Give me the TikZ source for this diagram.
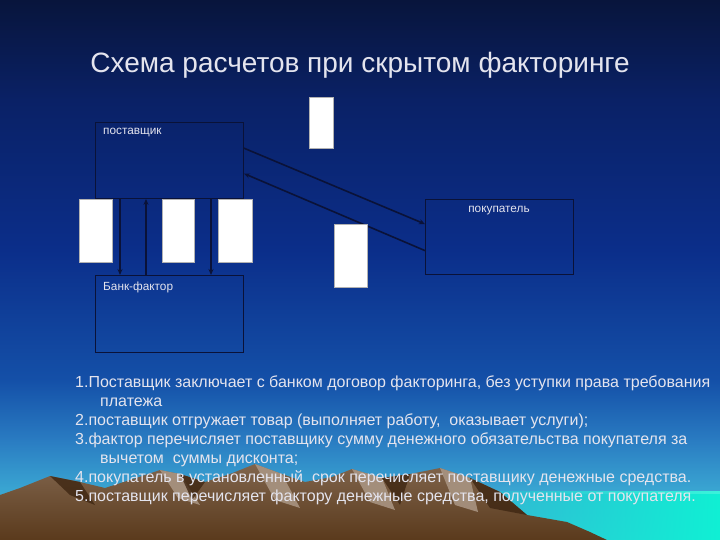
\documentclass[tikz,border=0pt]{standalone}
\usepackage{fontspec}
\setmainfont{Liberation Sans}
\usetikzlibrary{arrows.meta,calc,fadings}
\definecolor{bg0}{HTML}{08153C}
\definecolor{bg1}{HTML}{0A2166}
\definecolor{bg2}{HTML}{0B2E8A}
\definecolor{bg3}{HTML}{1450A8}
\definecolor{bg4}{HTML}{2A7CC2}
\definecolor{bg5}{HTML}{3AA6D2}
\definecolor{bg6}{HTML}{3AB4D6}
\definecolor{seaL}{HTML}{2A98C4}
\definecolor{seaR}{HTML}{10F0D4}
\definecolor{mtop}{HTML}{80644C}
\definecolor{mbot}{HTML}{5A3A1C}
\definecolor{mlight}{HTML}{AC9886}
\definecolor{mdark}{HTML}{3E2612}
\definecolor{edgec}{HTML}{0A1238}
\definecolor{txt}{HTML}{E4E4EE}
\tikzfading[name=fadeleft, left color=transparent!100, right color=transparent!0]
\tikzset{
  box/.style={draw=edgec, line width=0.9pt, inner sep=0pt, anchor=north west},
  wbox/.style={fill=white, draw=gray!60, line width=0.4pt, inner sep=0pt, anchor=north west},
  lbl/.style={text=txt, font=\fontsize{11.8}{13}\selectfont, inner sep=0pt},
  item/.style={text=txt, font=\fontsize{16}{19}\selectfont, inner sep=0pt, anchor=base west},
  conn/.style={draw=edgec, line width=1.6pt, -{Stealth[length=6pt,width=5pt]}}
}
\begin{document}
\begin{tikzpicture}[x=1pt,y=-1pt]
\useasboundingbox (0,0) rectangle (720,540);
% background
\shade[top color=bg0, bottom color=bg1] (0,0) rectangle (720,101);
\shade[top color=bg1, bottom color=bg2] (0,100) rectangle (720,251);
\shade[top color=bg2, bottom color=bg3] (0,250) rectangle (720,381);
\shade[top color=bg3, bottom color=bg4] (0,380) rectangle (720,441);
\shade[top color=bg4, bottom color=bg5] (0,440) rectangle (720,491);
\shade[top color=bg5, bottom color=bg6] (0,490) rectangle (720,540);
% sea band
\fill[seaR, path fading=fadeleft] (430,491) rectangle (720,540);
\fill[seaR!70!white, path fading=fadeleft, opacity=0.6] (520,491) rectangle (720,494);
% mountains
\shade[top color=mtop, bottom color=mbot]
  (0,495) -- (20,488) -- (50,476) -- (80,482) -- (105,488) -- (130,480) -- (160,470)
  -- (180,474) -- (205,482) -- (230,474) -- (255,464) -- (282,474) -- (305,482)
  -- (332,477) -- (352,469) -- (382,478) -- (410,474) -- (440,468) -- (470,478)
  -- (500,492) -- (527,515) -- (567,522) -- (590,532) -- (607,540) -- (0,540) -- cycle;
\fill[mdark, opacity=0.8] (50,476) -- (80,482) -- (95,505) -- (70,495) -- cycle;
\fill[mlight, opacity=0.85] (160,470) -- (180,474) -- (200,505) -- (178,498) -- cycle;
\fill[mdark, opacity=0.8] (180,474) -- (205,482) -- (192,500) -- cycle;
\fill[mlight, opacity=0.85] (255,464) -- (282,474) -- (300,508) -- (275,500) -- cycle;
\fill[mlight, opacity=0.85] (352,469) -- (382,478) -- (395,510) -- (370,502) -- cycle;
\fill[mdark, opacity=0.8] (382,478) -- (410,474) -- (400,505) -- cycle;
\fill[mlight, opacity=0.85] (440,468) -- (470,478) -- (478,512) -- (455,505) -- cycle;
\fill[mdark, opacity=0.8] (470,478) -- (500,492) -- (527,515) -- (490,508) -- cycle;
% title
\node[text=txt, font=\fontsize{28}{33}\selectfont, inner sep=0pt, anchor=base] (title) at (360,73) {Схема расчетов при скрытом факторинге};
% boxes
\node[box, minimum width=148pt, minimum height=76pt] (sup) at (95,122) {};
\node[box, minimum width=148pt, minimum height=75pt] (buy) at (425,199) {};
\node[box, minimum width=148pt, minimum height=77pt] (bank) at (95,275) {};
\node[lbl, anchor=west] (supt) at (103,133) {поставщик};
\node[lbl] (buyt) at (499,211) {покупатель};
\node[lbl, anchor=west] (bankt) at (103,287) {Банк-фактор};
% connectors
\coordinate (s1) at ($(sup.north east)!0.34!(sup.south east)$);
\coordinate (s2) at ($(sup.north east)!0.67!(sup.south east)$);
\coordinate (b1) at ($(buy.north west)!0.33!(buy.south west)$);
\coordinate (b2) at ($(buy.north west)!0.68!(buy.south west)$);
\draw[conn] (s1) -- (b1);
\draw[conn] (b2) -- (s2);
\draw[conn] ($(sup.south west)+(25,0)$) -- ($(bank.north west)+(25,0)$);
\draw[conn] ($(bank.north west)+(51,0)$) -- ($(sup.south west)+(51,0)$);
\draw[conn] ($(sup.south west)+(116,0)$) -- ($(bank.north west)+(116,0)$);
% white rectangles
\node[wbox, minimum width=24pt, minimum height=51pt] (w1) at (309,97) {};
\node[wbox, minimum width=33pt, minimum height=63pt] (w2) at (79,199) {};
\node[wbox, minimum width=32pt, minimum height=63pt] (w3) at (162,199) {};
\node[wbox, minimum width=34pt, minimum height=63pt] (w4) at (218,199) {};
\node[wbox, minimum width=33pt, minimum height=63pt] (w5) at (334,224) {};
% list
\node[item] (l1) at (75,387) {1.Поставщик заключает с банком договор факторинга, без уступки права требования};
\node[item] (l1b) at (100,406) {платежа};
\node[item] (l2) at (75,425) {2.поставщик отгружает товар (выполняет работу,\ \ оказывает услуги);};
\node[item] (l3) at (75,444) {3.фактор перечисляет поставщику сумму денежного обязательства покупателя за};
\node[item] (l3b) at (100,463) {вычетом\ \ суммы дисконта;};
\node[item] (l4) at (75,482) {4.покупатель в установленный\ \ срок перечисляет поставщику денежные средства.};
\node[item] (l5) at (75,501) {5.поставщик перечисляет фактору денежные средства, полученные от покупателя.};
\end{tikzpicture}
\end{document}
